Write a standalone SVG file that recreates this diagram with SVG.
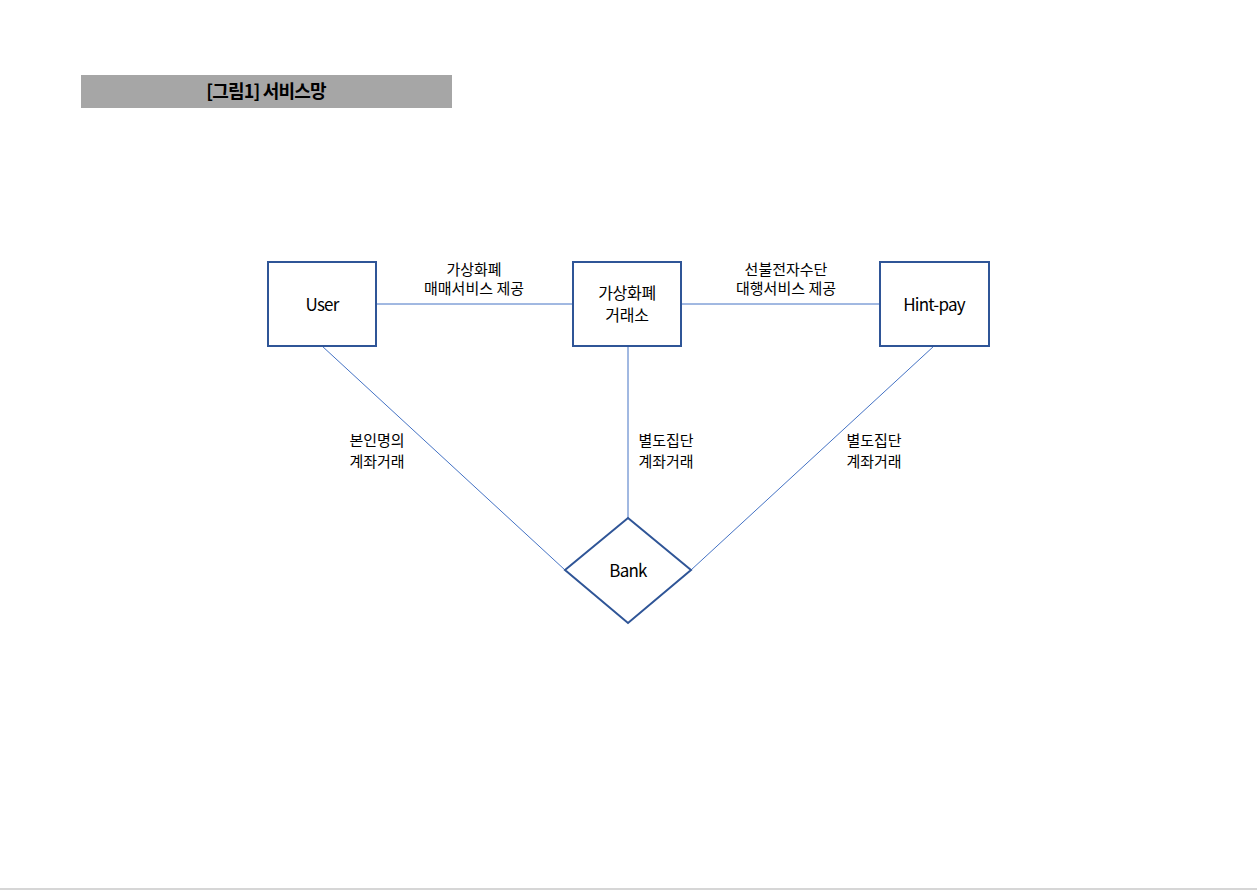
<svg xmlns="http://www.w3.org/2000/svg" width="1257" height="890" viewBox="0 0 1257 890">
<style>
.node{fill:#fff;stroke:#2f5597;stroke-width:2}
.conn{stroke:#4472c4;stroke-width:1;fill:none}
.lbl{font-family:"Noto Sans CJK KR","Noto Sans",sans-serif;font-size:15px;fill:#000;text-anchor:middle}
.nl{font-family:"Noto Sans CJK KR","Noto Sans",sans-serif;font-size:17px;fill:#000;text-anchor:middle;letter-spacing:-0.8px}
.nl2{font-family:"Noto Sans CJK KR","Noto Sans",sans-serif;font-size:16px;fill:#000;text-anchor:middle;letter-spacing:-0.3px}
</style>
<rect width="1257" height="890" fill="#fff"/>
<line x1="0" y1="889" x2="1257" y2="889" stroke="#c8c8c8" stroke-width="1.5"/>
<g id="title">
<rect x="81" y="75" width="371" height="33" fill="#a6a6a6"/>
<text x="266" y="98" font-family="Noto Sans CJK KR,sans-serif" font-size="18" font-weight="bold" text-anchor="middle" letter-spacing="-0.8">[그림1] 서비스망</text>
</g>
<g id="connectors">
<line class="conn" x1="376" y1="304" x2="573" y2="304"/>
<line class="conn" x1="681" y1="304" x2="880" y2="304"/>
<line class="conn" x1="322" y1="346" x2="565" y2="570"/>
<line class="conn" x1="628" y1="346" x2="628" y2="518"/>
<line class="conn" x1="934" y1="346" x2="691" y2="570"/>
<text class="lbl" x="474" y="275">가상화폐</text>
<text class="lbl" x="474" y="294">매매서비스 제공</text>
<text class="lbl" x="786" y="275">선불전자수단</text>
<text class="lbl" x="786" y="294">대행서비스 제공</text>
<text class="lbl" x="377" y="446">본인명의</text>
<text class="lbl" x="377" y="467">계좌거래</text>
<text class="lbl" x="666" y="446">별도집단</text>
<text class="lbl" x="666" y="467">계좌거래</text>
<text class="lbl" x="874" y="446">별도집단</text>
<text class="lbl" x="874" y="467">계좌거래</text>
</g>
<g id="user">
<rect class="node" x="268" y="262" width="108" height="84"/>
<text class="nl" x="322" y="311">User</text>
</g>
<g id="exchange">
<rect class="node" x="573" y="262" width="108" height="84"/>
<text class="nl2" x="627" y="299">가상화폐</text>
<text class="nl2" x="627" y="321">거래소</text>
</g>
<g id="hintpay">
<rect class="node" x="880" y="262" width="109" height="84"/>
<text class="nl" x="934" y="311">Hint-pay</text>
</g>
<g id="bank">
<polygon class="node" points="628,518 691,570 628,623 565,570"/>
<text class="nl" x="628" y="577">Bank</text>
</g>
</svg>
